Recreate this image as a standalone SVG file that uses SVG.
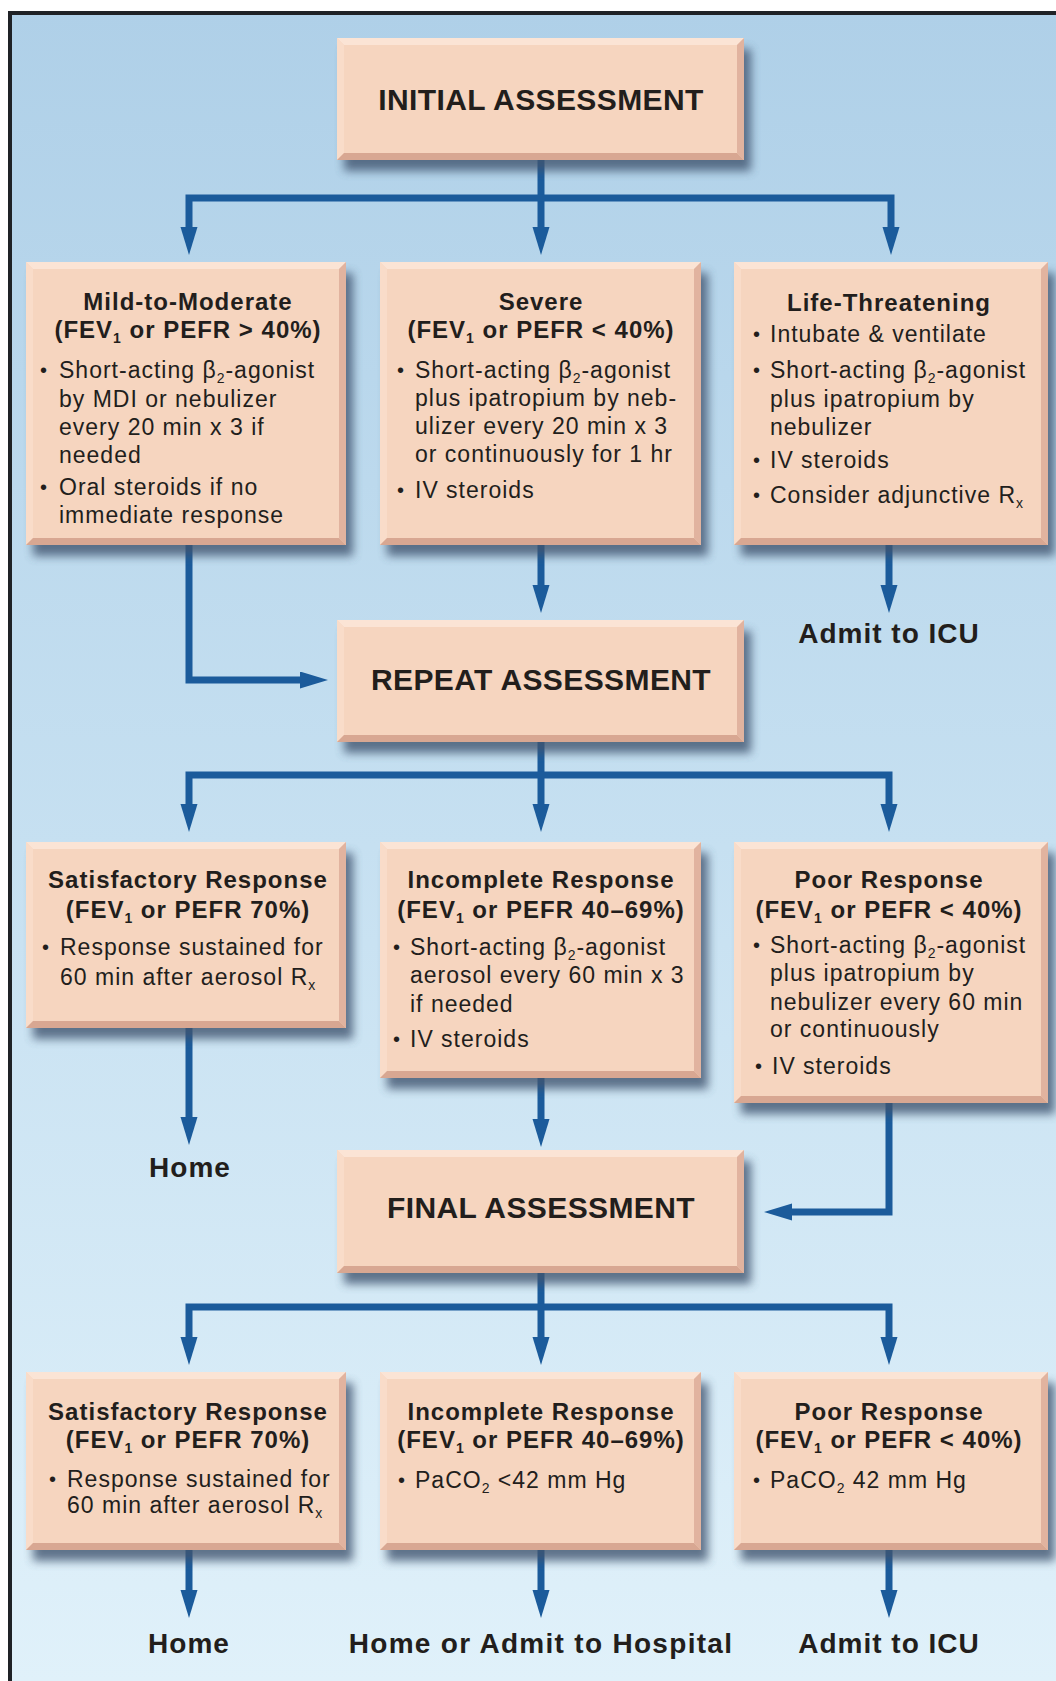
<svg xmlns="http://www.w3.org/2000/svg" width="1056" height="1681" viewBox="0 0 1056 1681">
  <defs>
    <linearGradient id="bg" x1="0" y1="0" x2="0" y2="1">
      <stop offset="0" stop-color="#afd0e8"/>
      <stop offset="0.5" stop-color="#c6e0f1"/>
      <stop offset="1" stop-color="#e0f1fa"/>
    </linearGradient>
    <filter id="soft" x="-10%" y="-10%" width="120%" height="130%">
      <feGaussianBlur stdDeviation="5"/>
    </filter>
    <marker id="arrow" markerUnits="userSpaceOnUse" markerWidth="30" markerHeight="18" refX="2" refY="8.5" orient="auto">
      <path d="M0,0 L28,8.5 L0,17 z" fill="#1b5b9b"/>
    </marker>
    <style>
      .shadow { fill: #3f5470; opacity: 0.8; filter: url(#soft); }
      .face { fill: #f6d5bf; }
      .bt { fill: #fbe4d5; }
      .bl { fill: #f9dcc9; }
      .br { fill: #e1b39f; }
      .bb { fill: #d8a792; }
      .link { fill: none; stroke: #1b5b9b; stroke-width: 7; stroke-linejoin: miter; marker-end: url(#arrow); }
      text { font-family: "Liberation Sans", Arial, Helvetica, sans-serif; fill: #221e1c; }
      .head { font-size: 30px; font-weight: bold; letter-spacing: 0.4px; text-anchor: middle; }
      .t { font-size: 24px; font-weight: bold; letter-spacing: 1px; text-anchor: middle; }
      .b { font-size: 23px; letter-spacing: 1px; }
      .bu { font-size: 20px; }
      .sub { font-size: 14px; }
      .out { font-size: 28px; font-weight: bold; letter-spacing: 1px; text-anchor: middle; }
    </style>
  </defs>

  <!-- page and frame -->
  <rect x="0" y="0" width="1056" height="1681" fill="#ffffff"/>
  <rect x="8" y="11" width="1048" height="1670" fill="url(#bg)"/>
  <rect x="8" y="11" width="1048" height="4" fill="#1f2226"/>
  <rect x="8" y="11" width="4" height="1670" fill="#1f2226"/>

  <!-- connectors -->
  <g id="connectors">
    <path class="link" d="M541,150 V229"/>
    <path class="link" d="M541,198 H189 V229"/>
    <path class="link" d="M541,198 H891 V229"/>

    <path class="link" d="M189,545 V680 H302"/>
    <path class="link" d="M541,545 V587"/>
    <path class="link" d="M889,545 V587"/>

    <path class="link" d="M541,735 V806"/>
    <path class="link" d="M541,775 H189 V806"/>
    <path class="link" d="M541,775 H889 V806"/>

    <path class="link" d="M189,1020 V1119"/>
    <path class="link" d="M541,1070 V1121"/>
    <path class="link" d="M889,1095 V1212 H790"/>

    <path class="link" d="M541,1265 V1339"/>
    <path class="link" d="M541,1307 H189 V1339"/>
    <path class="link" d="M541,1307 H889 V1339"/>

    <path class="link" d="M189,1545 V1592"/>
    <path class="link" d="M541,1545 V1592"/>
    <path class="link" d="M889,1545 V1592"/>
  </g>

  <!-- INITIAL ASSESSMENT -->
  <g id="initial">
    <rect class="shadow" x="344" y="49" width="407" height="122"/>
    <rect class="face" x="337" y="38" width="407" height="122"/>
    <polygon class="bt" points="337,38 744,38 737,45 344,45"/>
    <polygon class="bl" points="337,38 344,45 344,153 337,160"/>
    <polygon class="br" points="744,38 744,160 737,153 737,45"/>
    <polygon class="bb" points="337,160 744,160 737,153 344,153"/>
    <text class="head" x="541" y="110">INITIAL ASSESSMENT</text>
  </g>

  <!-- Mild-to-Moderate -->
  <g id="mild">
    <rect class="shadow" x="33" y="273" width="320" height="283"/>
    <rect class="face" x="26" y="262" width="320" height="283"/>
    <polygon class="bt" points="26,262 346,262 339,269 33,269"/>
    <polygon class="bl" points="26,262 33,269 33,538 26,545"/>
    <polygon class="br" points="346,262 346,545 339,538 339,269"/>
    <polygon class="bb" points="26,545 346,545 339,538 33,538"/>
    <text class="t" x="188" y="310">Mild-to-Moderate</text>
    <text class="t" x="188" y="338">(FEV<tspan class="sub" dy="5">1</tspan><tspan dy="-5"> or PEFR &gt; 40%)</tspan></text>
    <text class="bu" x="40" y="377">•</text>
    <text class="b" x="59" y="378">Short-acting β<tspan class="sub" dy="5">2</tspan><tspan dy="-5">-agonist</tspan></text>
    <text class="b" x="59" y="407">by MDI or nebulizer</text>
    <text class="b" x="59" y="435">every 20 min x 3 if</text>
    <text class="b" x="59" y="463">needed</text>
    <text class="bu" x="40" y="494">•</text>
    <text class="b" x="59" y="495">Oral steroids if no</text>
    <text class="b" x="59" y="523">immediate response</text>
  </g>

  <!-- Severe -->
  <g id="severe">
    <rect class="shadow" x="387" y="273" width="321" height="283"/>
    <rect class="face" x="380" y="262" width="321" height="283"/>
    <polygon class="bt" points="380,262 701,262 694,269 387,269"/>
    <polygon class="bl" points="380,262 387,269 387,538 380,545"/>
    <polygon class="br" points="701,262 701,545 694,538 694,269"/>
    <polygon class="bb" points="380,545 701,545 694,538 387,538"/>
    <text class="t" x="541" y="310">Severe</text>
    <text class="t" x="541" y="338">(FEV<tspan class="sub" dy="5">1</tspan><tspan dy="-5"> or PEFR &lt; 40%)</tspan></text>
    <text class="bu" x="397" y="377">•</text>
    <text class="b" x="415" y="378">Short-acting β<tspan class="sub" dy="5">2</tspan><tspan dy="-5">-agonist</tspan></text>
    <text class="b" x="415" y="406">plus ipatropium by neb-</text>
    <text class="b" x="415" y="434">ulizer every 20 min x 3</text>
    <text class="b" x="415" y="462">or continuously for 1 hr</text>
    <text class="bu" x="397" y="497">•</text>
    <text class="b" x="415" y="498">IV steroids</text>
  </g>

  <!-- Life-Threatening -->
  <g id="life">
    <rect class="shadow" x="741" y="273" width="314" height="283"/>
    <rect class="face" x="734" y="262" width="314" height="283"/>
    <polygon class="bt" points="734,262 1048,262 1041,269 741,269"/>
    <polygon class="bl" points="734,262 741,269 741,538 734,545"/>
    <polygon class="br" points="1048,262 1048,545 1041,538 1041,269"/>
    <polygon class="bb" points="734,545 1048,545 1041,538 741,538"/>
    <text class="t" x="889" y="311">Life-Threatening</text>
    <text class="bu" x="753" y="341">•</text>
    <text class="b" x="770" y="342">Intubate &amp; ventilate</text>
    <text class="bu" x="753" y="377">•</text>
    <text class="b" x="770" y="378">Short-acting β<tspan class="sub" dy="5">2</tspan><tspan dy="-5">-agonist</tspan></text>
    <text class="b" x="770" y="407">plus ipatropium by</text>
    <text class="b" x="770" y="435">nebulizer</text>
    <text class="bu" x="753" y="467">•</text>
    <text class="b" x="770" y="468">IV steroids</text>
    <text class="bu" x="753" y="502">•</text>
    <text class="b" x="770" y="503">Consider adjunctive R<tspan class="sub" dy="5">x</tspan></text>
  </g>

  <g id="admit-icu-1">
    <text class="out" x="889" y="643">Admit to ICU</text>
  </g>

  <!-- REPEAT ASSESSMENT -->
  <g id="repeat">
    <rect class="shadow" x="344" y="631" width="407" height="122"/>
    <rect class="face" x="337" y="620" width="407" height="122"/>
    <polygon class="bt" points="337,620 744,620 737,627 344,627"/>
    <polygon class="bl" points="337,620 344,627 344,735 337,742"/>
    <polygon class="br" points="744,620 744,742 737,735 737,627"/>
    <polygon class="bb" points="337,742 744,742 737,735 344,735"/>
    <text class="head" x="541" y="690">REPEAT ASSESSMENT</text>
  </g>

  <!-- Satisfactory Response (repeat) -->
  <g id="satisfactory-1">
    <rect class="shadow" x="33" y="853" width="320" height="186"/>
    <rect class="face" x="26" y="842" width="320" height="186"/>
    <polygon class="bt" points="26,842 346,842 339,849 33,849"/>
    <polygon class="bl" points="26,842 33,849 33,1021 26,1028"/>
    <polygon class="br" points="346,842 346,1028 339,1021 339,849"/>
    <polygon class="bb" points="26,1028 346,1028 339,1021 33,1021"/>
    <text class="t" x="188" y="888">Satisfactory Response</text>
    <text class="t" x="188" y="918">(FEV<tspan class="sub" dy="5">1</tspan><tspan dy="-5"> or PEFR 70%)</tspan></text>
    <text class="bu" x="42" y="954">•</text>
    <text class="b" x="60" y="955">Response sustained for</text>
    <text class="b" x="60" y="985">60 min after aerosol R<tspan class="sub" dy="5">x</tspan></text>
  </g>

  <!-- Incomplete Response (repeat) -->
  <g id="incomplete-1">
    <rect class="shadow" x="387" y="853" width="321" height="236"/>
    <rect class="face" x="380" y="842" width="321" height="236"/>
    <polygon class="bt" points="380,842 701,842 694,849 387,849"/>
    <polygon class="bl" points="380,842 387,849 387,1071 380,1078"/>
    <polygon class="br" points="701,842 701,1078 694,1071 694,849"/>
    <polygon class="bb" points="380,1078 701,1078 694,1071 387,1071"/>
    <text class="t" x="541" y="888">Incomplete Response</text>
    <text class="t" x="541" y="918">(FEV<tspan class="sub" dy="5">1</tspan><tspan dy="-5"> or PEFR 40–69%)</tspan></text>
    <text class="bu" x="393" y="954">•</text>
    <text class="b" x="410" y="955">Short-acting β<tspan class="sub" dy="5">2</tspan><tspan dy="-5">-agonist</tspan></text>
    <text class="b" x="410" y="983">aerosol every 60 min x 3</text>
    <text class="b" x="410" y="1012">if needed</text>
    <text class="bu" x="393" y="1046">•</text>
    <text class="b" x="410" y="1047">IV steroids</text>
  </g>

  <!-- Poor Response (repeat) -->
  <g id="poor-1">
    <rect class="shadow" x="741" y="853" width="314" height="261"/>
    <rect class="face" x="734" y="842" width="314" height="261"/>
    <polygon class="bt" points="734,842 1048,842 1041,849 741,849"/>
    <polygon class="bl" points="734,842 741,849 741,1096 734,1103"/>
    <polygon class="br" points="1048,842 1048,1103 1041,1096 1041,849"/>
    <polygon class="bb" points="734,1103 1048,1103 1041,1096 741,1096"/>
    <text class="t" x="889" y="888">Poor Response</text>
    <text class="t" x="889" y="918">(FEV<tspan class="sub" dy="5">1</tspan><tspan dy="-5"> or PEFR &lt; 40%)</tspan></text>
    <text class="bu" x="753" y="952">•</text>
    <text class="b" x="770" y="953">Short-acting β<tspan class="sub" dy="5">2</tspan><tspan dy="-5">-agonist</tspan></text>
    <text class="b" x="770" y="981">plus ipatropium by</text>
    <text class="b" x="770" y="1010">nebulizer every 60 min</text>
    <text class="b" x="770" y="1037">or continuously</text>
    <text class="bu" x="755" y="1073">•</text>
    <text class="b" x="772" y="1074">IV steroids</text>
  </g>

  <g id="home-1">
    <text class="out" x="190" y="1177">Home</text>
  </g>

  <!-- FINAL ASSESSMENT -->
  <g id="final">
    <rect class="shadow" x="344" y="1161" width="407" height="123"/>
    <rect class="face" x="337" y="1150" width="407" height="123"/>
    <polygon class="bt" points="337,1150 744,1150 737,1157 344,1157"/>
    <polygon class="bl" points="337,1150 344,1157 344,1266 337,1273"/>
    <polygon class="br" points="744,1150 744,1273 737,1266 737,1157"/>
    <polygon class="bb" points="337,1273 744,1273 737,1266 344,1266"/>
    <text class="head" x="541" y="1218">FINAL ASSESSMENT</text>
  </g>

  <!-- Satisfactory Response (final) -->
  <g id="satisfactory-2">
    <rect class="shadow" x="33" y="1383" width="320" height="178"/>
    <rect class="face" x="26" y="1372" width="320" height="178"/>
    <polygon class="bt" points="26,1372 346,1372 339,1379 33,1379"/>
    <polygon class="bl" points="26,1372 33,1379 33,1543 26,1550"/>
    <polygon class="br" points="346,1372 346,1550 339,1543 339,1379"/>
    <polygon class="bb" points="26,1550 346,1550 339,1543 33,1543"/>
    <text class="t" x="188" y="1420">Satisfactory Response</text>
    <text class="t" x="188" y="1448">(FEV<tspan class="sub" dy="5">1</tspan><tspan dy="-5"> or PEFR 70%)</tspan></text>
    <text class="bu" x="49" y="1486">•</text>
    <text class="b" x="67" y="1487">Response sustained for</text>
    <text class="b" x="67" y="1513">60 min after aerosol R<tspan class="sub" dy="5">x</tspan></text>
  </g>

  <!-- Incomplete Response (final) -->
  <g id="incomplete-2">
    <rect class="shadow" x="387" y="1383" width="321" height="178"/>
    <rect class="face" x="380" y="1372" width="321" height="178"/>
    <polygon class="bt" points="380,1372 701,1372 694,1379 387,1379"/>
    <polygon class="bl" points="380,1372 387,1379 387,1543 380,1550"/>
    <polygon class="br" points="701,1372 701,1550 694,1543 694,1379"/>
    <polygon class="bb" points="380,1550 701,1550 694,1543 387,1543"/>
    <text class="t" x="541" y="1420">Incomplete Response</text>
    <text class="t" x="541" y="1448">(FEV<tspan class="sub" dy="5">1</tspan><tspan dy="-5"> or PEFR 40–69%)</tspan></text>
    <text class="bu" x="398" y="1487">•</text>
    <text class="b" x="415" y="1488">PaCO<tspan class="sub" dy="5">2</tspan><tspan dy="-5"> &lt;42 mm Hg</tspan></text>
  </g>

  <!-- Poor Response (final) -->
  <g id="poor-2">
    <rect class="shadow" x="741" y="1383" width="314" height="178"/>
    <rect class="face" x="734" y="1372" width="314" height="178"/>
    <polygon class="bt" points="734,1372 1048,1372 1041,1379 741,1379"/>
    <polygon class="bl" points="734,1372 741,1379 741,1543 734,1550"/>
    <polygon class="br" points="1048,1372 1048,1550 1041,1543 1041,1379"/>
    <polygon class="bb" points="734,1550 1048,1550 1041,1543 741,1543"/>
    <text class="t" x="889" y="1420">Poor Response</text>
    <text class="t" x="889" y="1448">(FEV<tspan class="sub" dy="5">1</tspan><tspan dy="-5"> or PEFR &lt; 40%)</tspan></text>
    <text class="bu" x="753" y="1487">•</text>
    <text class="b" x="770" y="1488">PaCO<tspan class="sub" dy="5">2</tspan><tspan dy="-5"> 42 mm Hg</tspan></text>
  </g>

  <!-- outcomes -->
  <g id="home-2">
    <text class="out" x="189" y="1653">Home</text>
  </g>
  <g id="home-or-admit">
    <text class="out" x="541" y="1653" style="letter-spacing:1.3px">Home or Admit to Hospital</text>
  </g>
  <g id="admit-icu-2">
    <text class="out" x="889" y="1653">Admit to ICU</text>
  </g>
</svg>
